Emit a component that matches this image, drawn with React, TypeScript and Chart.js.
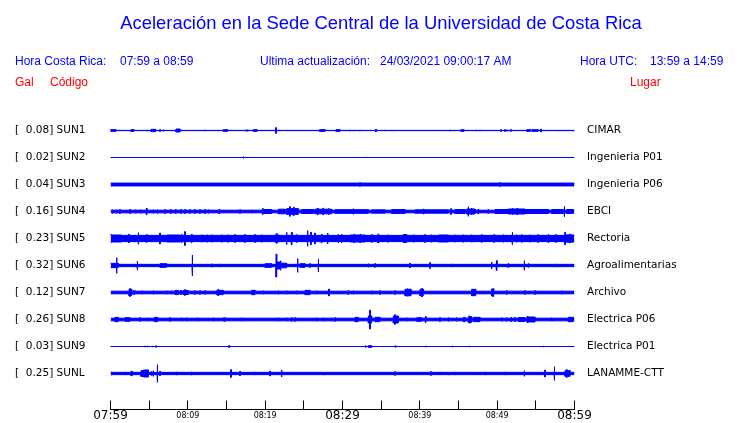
import React, { useEffect, useRef } from 'react';
import { Chart, registerables } from 'chart.js';

Chart.register(...registerables);

// ---------------- data ----------------
const STATION_CODES = ['SUN1', 'SUN2', 'SUN3', 'SUN4', 'SUN5', 'SUN6', 'SUN7', 'SUN8', 'SUN9', 'SUNL'];
const STATION_PLACES = ['CIMAR', 'Ingenieria P01', 'Ingenieria P06', 'EBCI', 'Rectoria', 'Agroalimentarias', 'Archivo', 'Electrica P06', 'Electrica P01', 'LANAMME-CTT'];
const PEAK_GAL = [0.08, 0.02, 0.04, 0.16, 0.23, 0.32, 0.12, 0.26, 0.03, 0.25];
// background noise half-amplitude of each trace (Gal)
const BASE_GAL = [0.017, 0.013, 0.052, 0.049, 0.097, 0.044, 0.049, 0.049, 0.013, 0.044];
const TIME_LABELS = ['07:59', '08:09', '08:19', '08:29', '08:39', '08:49', '08:59'];
const MAJOR_TIME_LABELS = ['07:59', '08:29', '08:59'];
const WINDOW_MINUTES = 60;

// events: [minute, halfAmplitudeGal]  or  [startMinute, endMinute, halfAmplitudeGal]
const SUN1_EVENTS = [[0, 0.053], [0.06, 0.71, 0.036], [1.96, 0.018], [2.65, 3.04, 0.036], [3.6, 0.018], [4.81, 0.027], [5.24, 5.84, 0.044], [6.4, 0.036], [6.83, 0.036], [7.78, 0.018], [8.47, 8.99, 0.053], [9.2, 0.027], [12.22, 0.027], [13.3, 0.027], [14.59, 15.15, 0.036], [16.75, 0.018], [17.48, 17.82, 0.027], [18.47, 18.94, 0.036], [21.4, 0.089], [21.79, 0.027], [22.91, 0.027], [24.2, 0.027], [25.37, 0.018], [27.05, 27.74, 0.036], [29.16, 29.68, 0.036], [30.97, 0.027], [31.4, 0.027], [31.7, 0.027], [32.26, 0.027], [34.33, 0.044], [35.5, 0.027], [36.45, 0.027], [37.52, 0.027], [39.03, 0.018], [39.89, 0.018], [42.26, 0.027], [43.04, 0.018], [43.9, 0.027], [44.46, 0.027], [45.32, 45.71, 0.036], [47.26, 0.027], [47.78, 0.027], [50.5, 0.036], [51.01, 0.036], [51.23, 0.036], [51.79, 0.036], [52.52, 0.027], [53.17, 0.027], [53.82, 54.3, 0.036], [54.5, 55.32, 0.036], [55.67, 0.053], [57.91, 0.027], [59.11, 0.027], [59.85, 0.027]];
const SUN2_EVENTS = [[17.18, 0.036], [33.13, 0.018], [47.22, 0.018], [53.94, 0.027]];
const SUN3_EVENTS = [[32.26, 0.062], [50.37, 0.062]];
const SUN4_EVENTS = [[0.24, 0.065], [0.8, 0.065], [1.23, 0.065], [2.52, 0.065], [3.25, 0.065], [3.9, 0.065], [4.68, 0.098], [5.54, 0.065], [6.06, 0.065], [7.05, 0.065], [7.82, 0.065], [8.43, 0.065], [9.12, 0.065], [9.63, 0.065], [10.28, 0.062], [10.93, 0.065], [11.57, 0.065], [12.22, 0.065], [12.65, 0.065], [14.07, 0.071], [16.75, 0.06], [18.25, 0.06], [19.63, 20.84, 0.066], [19.7, 0.089], [21.7, 22.6, 0.075], [22.78, 24.29, 0.09], [23.2, 0.14], [23.7, 0.124], [24.72, 26.23, 0.066], [26.44, 28.6, 0.075], [26.8, 0.098], [27.5, 0.1], [28.2, 0.098], [29.03, 33.34, 0.062], [31.4, 0.089], [33.77, 35.5, 0.058], [36.36, 38.08, 0.065], [37.5, 0.08], [39.38, 43.69, 0.058], [40.5, 0.08], [44.03, 0.089], [44.55, 45.84, 0.066], [46.06, 47.13, 0.08], [46.27, 0.142], [46.7, 0.107], [47.56, 0.071], [48.85, 0.062], [49.72, 51.44, 0.066], [51.44, 53.6, 0.08], [52.0, 0.098], [52.6, 0.098], [53.6, 56.62, 0.066], [57.05, 58.56, 0.066], [58.69, 0.151], [58.99, 59.85, 0.066]];
const SUN5_EVENTS = [[0, 1.44, 0.107], [0, 0.13], [2.39, 0.124], [3.6, 0.169], [4.68, 0.116], [6.4, 0.16], [7.26, 8.99, 0.107], [9.2, 0.133], [9.63, 0.196], [10.5, 0.124], [11.79, 0.116], [12.5, 0.11], [13.08, 0.116], [14.37, 0.116], [15.2, 0.11], [16.1, 0.116], [17.39, 0.116], [18.69, 0.116], [19.55, 0.116], [20.3, 0.11], [21.27, 21.7, 0.11], [21.5, 0.142], [22.78, 0.178], [23.43, 0.178], [24.07, 0.124], [25.49, 0.222], [25.92, 0.178], [26.44, 0.16], [27.31, 0.124], [28.08, 0.16], [29.46, 0.124], [29.9, 0.116], [30.97, 32.91, 0.107], [31.5, 0.124], [32.3, 0.124], [33.8, 0.116], [34.63, 0.133], [35.9, 0.11], [37.86, 38.3, 0.12], [38.0, 0.133], [39.2, 0.116], [40.67, 0.116], [41.5, 0.116], [42.39, 43.69, 0.107], [44.5, 0.116], [45.6, 0.11], [46.7, 0.116], [48.0, 0.116], [49.6, 0.116], [50.8, 0.116], [51.96, 0.178], [52.5, 0.116], [53.17, 0.124], [54.2, 0.116], [55.3, 0.116], [56.62, 0.133], [57.6, 0.116], [58.77, 59.85, 0.11], [58.77, 0.178], [59.4, 0.133]];
const SUN6_EVENTS = [[0, 1.01, 0.071], [0.8, 0.222], [3.47, 0.133], [6.4, 7.26, 0.062], [10.58, 0.293], [13.08, 0.062], [14.16, 0.053], [19.98, 20.84, 0.062], [21.44, 0.32], [21.5, 22.0, 0.107], [22.0, 22.78, 0.075], [22.0, 0.14], [24.2, 0.196], [24.5, 25.15, 0.062], [25.8, 0.062], [26.88, 0.187], [28.6, 0.053], [33.34, 0.062], [34.2, 0.062], [36.7, 0.053], [38.73, 0.071], [41.32, 0.089], [42.61, 0.053], [44.12, 0.053], [44.98, 0.053], [49.29, 0.107], [49.94, 0.142], [51.44, 0.062], [53.51, 0.142], [54.03, 0.071], [55.11, 0.053], [57.48, 0.053], [57.91, 0.053]];
const SUN7_EVENTS = [[2.39, 2.74, 0.098], [2.52, 0.116], [2.95, 3.17, 0.062], [4.03, 0.062], [5.54, 0.062], [7.26, 0.062], [7.91, 0.062], [8.34, 8.8, 0.066], [8.6, 0.08], [9.1, 0.071], [9.4, 10.06, 0.066], [9.63, 0.089], [10.93, 0.062], [11.57, 0.062], [12.22, 0.062], [13.73, 14.59, 0.07], [13.94, 0.098], [18.25, 18.69, 0.071], [19.76, 0.062], [21.7, 0.062], [22.78, 0.062], [24.07, 0.062], [25.15, 25.8, 0.071], [26.66, 0.062], [28.25, 0.107], [30.75, 0.062], [31.4, 0.062], [33.77, 0.062], [34.85, 0.062], [36.79, 0.062], [38.08, 38.86, 0.1], [38.4, 0.116], [40.02, 40.45, 0.1], [40.3, 0.124], [46.7, 47.22, 0.098], [49.29, 49.59, 0.107], [49.45, 0.116], [51.23, 0.071], [53.6, 0.062], [54.9, 0.062], [58.34, 0.062]];
const SUN8_EVENTS = [[0.58, 1.01, 0.071], [0.8, 0.08], [1.88, 2.52, 0.062], [3.81, 0.062], [4.89, 0.062], [5.67, 6.1, 0.071], [7.69, 0.062], [9.2, 0.062], [9.85, 0.062], [11.27, 0.062], [13.3, 0.062], [14.59, 0.062], [14.8, 0.062], [16.96, 0.062], [21.7, 0.062], [22.78, 0.062], [23.43, 0.062], [23.86, 0.062], [26.66, 0.062], [27.52, 0.062], [28.6, 0.062], [29.03, 0.062], [31.62, 32.05, 0.071], [33.34, 33.77, 0.107], [33.56, 0.267], [34.2, 34.85, 0.071], [36.57, 37.22, 0.107], [36.79, 0.142], [38.3, 0.062], [39.59, 40.24, 0.062], [40.76, 0.089], [42.61, 0.066], [43.69, 0.066], [44.76, 0.066], [45.63, 45.84, 0.071], [46.27, 46.7, 0.089], [46.4, 0.116], [46.92, 47.78, 0.071], [50.58, 0.066], [51.2, 0.066], [51.8, 0.066], [52.3, 0.066], [52.73, 53.6, 0.066], [53.82, 54.9, 0.08], [53.94, 0.107], [57.05, 0.062], [59.2, 59.85, 0.071]];
const SUN9_EVENTS = [[0.15, 0.027], [0.5, 0.027], [2.44, 0.027], [4.46, 0.027], [4.81, 0.027], [5.45, 0.031], [5.88, 0.031], [15.24, 15.45, 0.031], [30.24, 0.027], [33.0, 0.031], [33.34, 33.77, 0.036], [36.88, 0.031], [40.8, 0.027], [44.25, 0.027], [46.4, 0.031], [47.05, 0.027], [55.97, 0.031], [58.69, 0.027]];
const SUNL_EVENTS = [[0, 0.15, 0.053], [1.88, 0.053], [2.65, 2.82, 0.071], [3.94, 4.89, 0.089], [4.25, 4.89, 0.107], [4.8, 0.116], [5.32, 0.071], [5.54, 0.089], [6.06, 0.249], [6.4, 0.071], [7.26, 0.053], [8.56, 0.053], [9.85, 0.053], [10.5, 0.053], [11.14, 0.053], [15.58, 0.116], [16.75, 0.071], [18.69, 0.053], [19.55, 0.053], [20.63, 0.08], [22.13, 0.107], [27.52, 0.053], [36.79, 0.062], [41.44, 0.062], [42.61, 0.053], [43.69, 0.053], [44.55, 0.053], [47.35, 0.053], [48.52, 0.053], [51.01, 0.053], [53.51, 0.089], [55.75, 0.053], [56.19, 0.107], [57.4, 0.196], [58.77, 59.42, 0.089], [58.99, 0.133]];

const STATION_EVENTS = [SUN1_EVENTS, SUN2_EVENTS, SUN3_EVENTS, SUN4_EVENTS, SUN5_EVENTS, SUN6_EVENTS, SUN7_EVENTS, SUN8_EVENTS, SUN9_EVENTS, SUNL_EVENTS];

// ---------------- layout (Gal units on the y scale) ----------------
const ROW_GAL = 0.72;
const Y_MIN = -0.96;
const Y_MAX = 7.2;
const PX_PER_GAL = 37.5;
const STROKE_GAL = 0.5 / PX_PER_GAL; // half of the 1px outline, removed from the filled envelope
const SPIKE_HALF_WIDTH = 0.04;
const BLUE = '#0000ff';
const RED = '#ff0000';

const offsetOf = (i: number) => (STATION_CODES.length - 1 - i) * ROW_GAL;
const stationAt = (v: number) => STATION_CODES.length - 1 - Math.round(v / ROW_GAL);

function envelope(events: number[][], base: number): number[][] {
  const iv = events.map((e) => (e.length === 2 ? [e[0] - SPIKE_HALF_WIDTH, e[0] + SPIKE_HALF_WIDTH, e[1]] : e));
  const cut = new Set<number>([0, WINDOW_MINUTES]);
  iv.forEach(([a, b]) => {
    cut.add(Math.max(0, Math.min(WINDOW_MINUTES, a)));
    cut.add(Math.max(0, Math.min(WINDOW_MINUTES, b)));
  });
  const xs = Array.from(cut).sort((a, b) => a - b);
  const out: number[][] = [];
  for (let i = 0; i < xs.length - 1; i++) {
    const a = xs[i];
    const b = xs[i + 1];
    const mid = (a + b) / 2;
    let amp = base;
    for (const [s, e, v] of iv) if (s <= mid && mid <= e && v > amp) amp = v;
    const drawn = Math.max(0, amp - STROKE_GAL);
    out.push([a, drawn], [b, drawn]);
  }
  return out;
}

function buildDatasets() {
  const ds: any[] = [];
  STATION_CODES.forEach((code, i) => {
    const off = offsetOf(i);
    const env = envelope(STATION_EVENTS[i], BASE_GAL[i]);
    const common = {
      borderColor: BLUE,
      backgroundColor: BLUE,
      borderWidth: 1,
      pointRadius: 0,
      tension: 0,
    };
    ds.push({ ...common, label: code + '+', data: env.map(([x, a]) => ({ x, y: off + a })), fill: false });
    ds.push({ ...common, label: code + '-', data: env.map(([x, a]) => ({ x, y: off - a })), fill: '-1' });
  });
  return ds;
}

const headerPlugin = {
  id: 'header',
  afterDraw(chart: any) {
    const ctx = chart.ctx as CanvasRenderingContext2D;
    ctx.save();
    ctx.textBaseline = 'middle';
    ctx.fillStyle = BLUE;
    ctx.font = '18.4px "Liberation Sans", Arial, sans-serif';
    ctx.textAlign = 'center';
    ctx.fillText('Aceleración en la Sede Central de la Universidad de Costa Rica', 381, 23.5);
    ctx.textAlign = 'left';
    ctx.font = '12px "Liberation Sans", Arial, sans-serif';
    ctx.fillText('Hora Costa Rica:', 15, 61.5);
    ctx.fillText('07:59 a 08:59', 120, 61.5);
    ctx.fillText('Ultima actualización:', 260, 61.5);
    ctx.fillText('24/03/2021 09:00:17 AM', 380, 61.5);
    ctx.fillText('Hora UTC:', 580, 61.5);
    ctx.fillText('13:59 a 14:59', 650, 61.5);
    ctx.fillStyle = RED;
    ctx.fillText('Gal', 15, 82.5);
    ctx.fillText('Código', 50, 82.5);
    ctx.fillText('Lugar', 630, 82.5);
    ctx.restore();
  },
};

const tickMarkPlugin = {
  id: 'tickMarks',
  afterDraw(chart: any) {
    const { ctx, scales, chartArea } = chart;
    const x = scales.x;
    ctx.save();
    ctx.strokeStyle = '#000';
    ctx.lineWidth = 1;
    ctx.beginPath();
    x.ticks.forEach((t: any) => {
      const px = Math.floor(x.getPixelForValue(t.value)) + 0.5;
      ctx.moveTo(px, chartArea.bottom - 9);
      ctx.lineTo(px, chartArea.bottom);
    });
    ctx.stroke();
    ctx.restore();
  },
};

export default function App() {
  const ref = useRef<HTMLCanvasElement>(null);
  useEffect(() => {
    const canvas = ref.current;
    if (!canvas) return;
    const offsets = STATION_CODES.map((_, i) => offsetOf(i)).sort((a, b) => a - b);
    const chart = new Chart(canvas, {
      type: 'line',
      data: { datasets: buildDatasets() },
      plugins: [headerPlugin, tickMarkPlugin],
      options: {
        responsive: false,
        animation: false,
        devicePixelRatio: 1,
        layout: { padding: { left: 15, top: 103.5, right: 0, bottom: 0 } },
        plugins: { legend: { display: false }, tooltip: { enabled: false }, title: { display: false } },
        elements: { line: { borderJoinStyle: 'miter' } },
        scales: {
          x: {
            type: 'linear',
            min: 0,
            max: WINDOW_MINUTES,
            grid: { display: true, drawOnChartArea: false, drawTicks: false },
            border: { display: true, color: '#000', width: 1 },
            afterFit: (s: any) => {
              s.height = 13.5;
            },
            ticks: {
              stepSize: 5,
              autoSkip: false,
              maxRotation: 0,
              padding: 0.5,
              color: '#000',
              font: (ctx: any) => {
                const v = ctx.tick ? ctx.tick.value : 0;
                const lbl = v % 10 === 0 ? TIME_LABELS[v / 10] : '';
                return MAJOR_TIME_LABELS.includes(lbl)
                  ? { family: '"DejaVu Sans"', size: 12, lineHeight: 1 }
                  : { family: '"DejaVu Sans"', size: 8, lineHeight: 1.5 };
              },
              callback: (v: any) => (Number(v) % 10 === 0 ? TIME_LABELS[Number(v) / 10] : ''),
            },
          },
          y: {
            type: 'linear',
            position: 'left',
            min: Y_MIN,
            max: Y_MAX,
            grid: { display: false, drawTicks: false },
            border: { display: false },
            afterBuildTicks: (s: any) => {
              s.ticks = offsets.map((v) => ({ value: v }));
            },
            afterFit: (s: any) => {
              s.width = 95.5;
            },
            ticks: {
              crossAlign: 'far',
              padding: 0,
              color: '#000',
              font: { family: '"DejaVu Sans"', size: 10.5 },
              callback: (v: any) => {
                const i = stationAt(Number(v));
                return `[  ${PEAK_GAL[i].toFixed(2)}] ${STATION_CODES[i]}`;
              },
            },
          },
          y2: {
            type: 'linear',
            position: 'right',
            min: Y_MIN,
            max: Y_MAX,
            grid: { display: false, drawTicks: true, tickLength: 12.5 },
            border: { display: false },
            afterBuildTicks: (s: any) => {
              s.ticks = offsets.map((v) => ({ value: v }));
            },
            afterFit: (s: any) => {
              s.width = 165.5;
            },
            ticks: {
              padding: 0,
              color: '#000',
              font: { family: '"DejaVu Sans"', size: 10.5 },
              callback: (v: any) => STATION_PLACES[stationAt(Number(v))],
            },
          },
        },
      } as any,
    });
    return () => chart.destroy();
  }, []);
  return (
    <div style={{ position: 'fixed', left: 0, top: 0, width: 740, height: 423, background: '#fff' }}>
      <canvas ref={ref} width={740} height={423} style={{ display: 'block', width: 740, height: 423 }} />
    </div>
  );
}
